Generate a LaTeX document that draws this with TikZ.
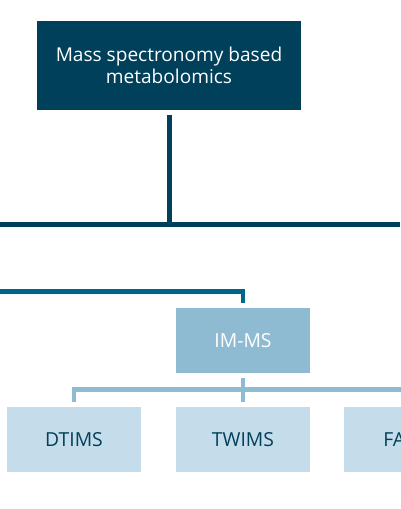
\documentclass[tikz,border=0pt]{standalone}
\usepackage{fontspec}
\setmainfont{Open Sans}
\usepackage{xcolor}
\definecolor{deepteal}{HTML}{00405A}
\definecolor{midteal}{HTML}{00668A}
\definecolor{skyblue}{HTML}{8FBBD2}
\definecolor{paleblue}{HTML}{C5DCEA}
\tikzset{
  rootbox/.style={
    fill=deepteal,
    text=white,
    minimum width=198pt,
    minimum height=66.75pt,
    align=center,
    inner sep=2pt,
    font=\fontsize{14.3}{16.8}\selectfont
  },
  groupbox/.style={
    fill=skyblue,
    text=white,
    minimum width=100.5pt,
    minimum height=48.4pt,
    inner sep=2pt,
    font=\fontsize{14.5}{17}\selectfont
  },
  leafbox/.style={
    fill=paleblue,
    text=deepteal,
    minimum width=100.5pt,
    minimum height=48.4pt,
    inner sep=2pt,
    font=\fontsize{14.5}{17}\selectfont
  },
  trunk/.style={draw=deepteal, line width=3.75pt},
  branch/.style={draw=midteal, line width=3.4pt},
  twig/.style={draw=skyblue, line width=3.5pt}
}
\begin{document}
\begin{tikzpicture}[x=0.75pt, y=-0.75pt]
  \useasboundingbox (0,0) rectangle (400,509);

  \coordinate (busL) at (0,224.5);
  \coordinate (busR) at (400,224.5);
  \coordinate (feedL) at (0,291.5);
  \coordinate (forkR) at (400,389.5);

  \node[rootbox] (root) at (169,65.5) {Mass spectronomy based\\metabolomics};

  \node[groupbox] (imms) at (243,340.5) {IM-MS};

  \node[leafbox] (dtims) at (74,439.5) {DTIMS};
  \node[leafbox] (twims) at (243,439.5) {TWIMS};
  \node[leafbox] (faims) at (411,439.5) {FAIMS};

  % top level
  \draw[trunk] (busL) -- (busR);
  \draw[trunk, shorten <=3.75pt] (root.south) -- (root.south |- busL);

  % to IM-MS
  \draw[branch, shorten >=4pt] (feedL) -| (imms.north);

  % IM-MS children
  \draw[twig, shorten <=4pt, shorten >=4pt] (imms.south) -- (twims.north);
  \draw[twig, shorten <=4pt] (dtims.north) |- (forkR);
  \draw[twig, shorten >=4pt] (imms.south |- forkR) -| (faims.north);
\end{tikzpicture}
\end{document}
